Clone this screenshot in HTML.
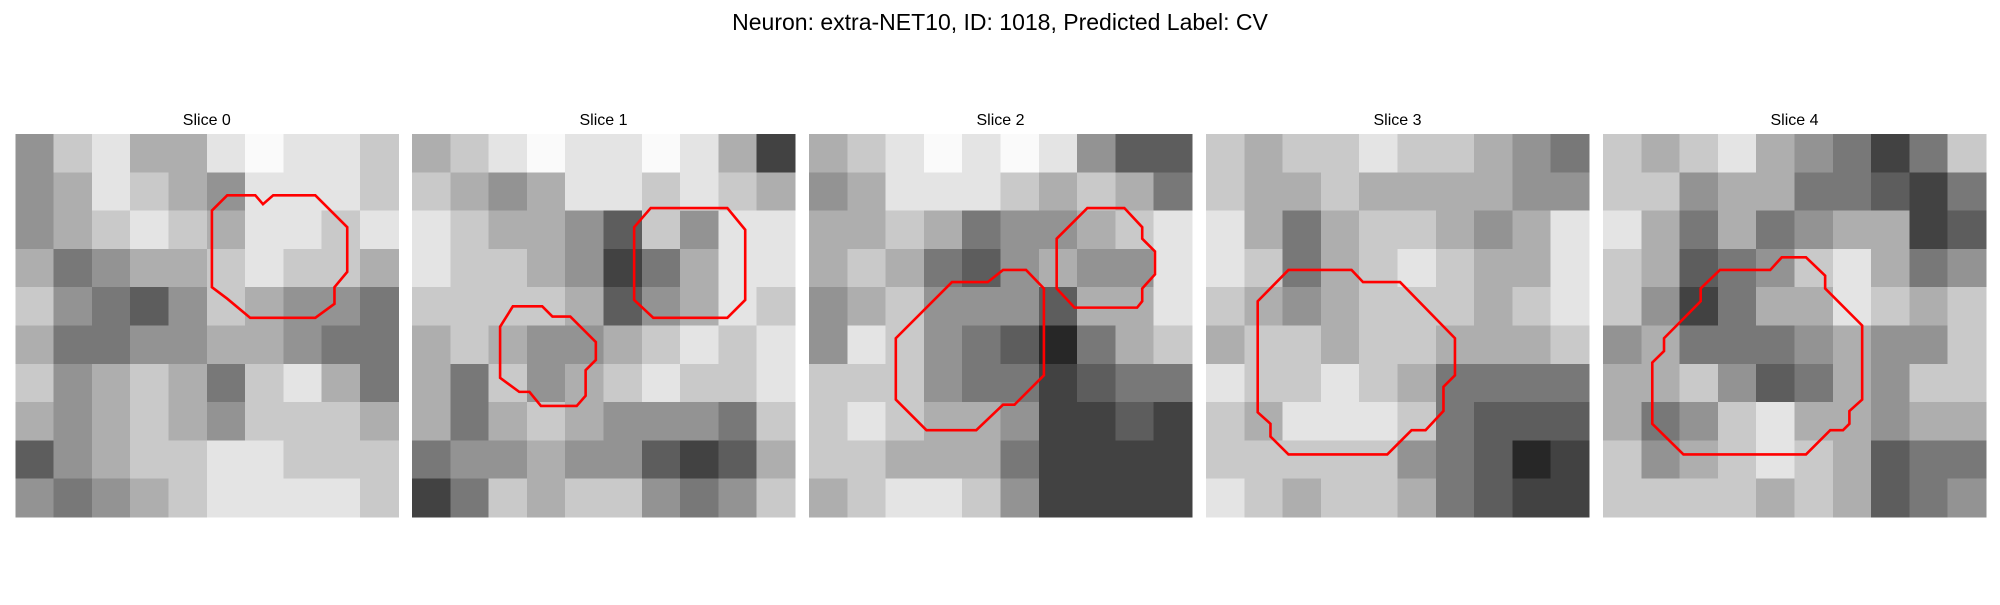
<!DOCTYPE html>
<html><head><meta charset="utf-8"><style>
body{margin:0;background:#fff;width:2000px;height:600px;overflow:hidden;font-family:"Liberation Sans","DejaVu Sans",sans-serif}
</style></head><body>
<svg id="chart" width="2000" height="600" xmlns="http://www.w3.org/2000/svg">
<text x="1000" y="30" text-anchor="middle" font-size="23" font-family="Liberation Sans, DejaVu Sans, sans-serif" fill="#000">Neuron: extra-NET10, ID: 1018, Predicted Label: CV</text>
</svg>
<script>
const sliceTitles = ["Slice 0","Slice 1","Slice 2","Slice 3","Slice 4"];
const grid0 = [[5,7,8,6,6,8,9,8,8,7],[5,6,8,7,6,5,8,8,8,7],[5,6,7,8,7,6,8,8,7,8],[6,4,5,6,6,7,8,7,7,6],[7,5,4,3,5,7,6,5,5,4],[6,4,4,5,5,6,6,5,4,4],[7,5,6,7,6,4,7,8,6,4],[6,5,6,7,6,5,7,7,7,6],[3,5,6,7,7,8,8,7,7,7],[5,4,5,6,7,8,8,8,8,7]];
const grid1 = [[6,7,8,9,8,8,9,8,6,2],[7,6,5,6,8,8,7,8,7,6],[8,7,6,6,5,3,7,5,8,8],[8,7,7,6,5,2,4,6,8,8],[7,7,7,7,6,3,5,6,8,7],[6,7,6,5,5,6,7,8,7,8],[6,4,7,5,6,7,8,7,7,8],[6,4,6,7,6,5,5,5,4,7],[4,5,5,6,5,5,3,2,3,6],[2,4,7,6,7,7,5,4,5,7]];
const grid2 = [[6,7,8,9,8,9,8,5,3,3],[5,6,8,8,8,7,6,7,6,4],[6,6,7,6,4,5,5,6,7,8],[6,7,6,4,3,5,6,5,5,8],[5,6,7,5,5,5,3,6,6,8],[5,8,7,5,4,3,1,4,6,7],[7,7,7,5,4,4,2,3,4,4],[7,8,7,6,6,5,2,2,3,2],[7,7,6,6,6,4,2,2,2,2],[6,7,8,8,7,5,2,2,2,2]];
const grid3 = [[7,6,7,7,8,7,7,6,5,4],[7,6,6,7,6,6,6,6,5,5],[8,6,4,6,7,7,6,5,6,8],[8,7,4,6,7,8,7,6,6,8],[7,6,5,6,7,7,7,6,7,8],[6,7,7,6,7,7,6,6,6,7],[8,7,7,8,7,6,4,4,4,4],[7,6,8,8,8,7,4,3,3,3],[7,7,7,7,7,5,4,3,1,2],[8,7,6,7,7,6,4,3,2,2]];
const grid4 = [[7,6,7,8,6,5,4,2,4,7],[7,7,5,6,6,4,4,3,2,4],[8,6,4,6,4,5,6,6,2,3],[7,6,3,4,5,7,8,6,4,5],[7,5,2,4,6,6,8,7,6,7],[5,6,4,4,4,5,6,5,5,7],[6,6,7,5,3,4,6,5,7,7],[6,4,5,7,8,6,6,5,6,6],[7,5,6,7,8,7,6,3,4,4],[7,7,7,7,6,7,6,3,4,5]];
const grids = [grid0,grid1,grid2,grid3,grid4];
const contours0 = [[[16.6,4.8],[18.8,4.8],[19.4,5.5],[20.2,4.8],[23.5,4.8],[26,7.3],[26,10.8],[25,12],[25,13.3],[23.5,14.4],[18.4,14.4],[16.6,12.9],[15.4,12],[15.4,6]]];
const contours1 = [[[18.7,5.8],[24.7,5.8],[26.1,7.5],[26.1,13],[24.7,14.4],[18.9,14.4],[17.4,13],[17.4,7.3]],
 [[7.9,13.5],[10.2,13.5],[11,14.3],[12.4,14.3],[13.6,15.5],[14.4,16.3],[14.4,17.7],[13.6,18.5],[13.6,20.5],[12.9,21.3],[10.1,21.3],[9.2,20.2],[8.4,20.2],[6.9,19.1],[6.9,15.1]]];
const contours2 = [[[21.8,5.8],[24.7,5.8],[26.1,7.3],[26.1,8.2],[27.1,9.2],[27.1,11],[26.1,12.1],[26.1,13.1],[25.7,13.6],[20.8,13.6],[19.4,12.1],[19.4,8.2]],
 [[15.2,10.65],[17,10.65],[18.4,12.1],[18.4,18.9],[16.1,21.2],[15.2,21.2],[13.1,23.2],[9.2,23.2],[6.8,20.8],[6.8,16],[11.2,11.6],[14,11.6]]];
const contours3 = [[[6.46,10.65],[11.4,10.65],[12.3,11.6],[15.2,11.6],[19.5,16],[19.5,18.9],[18.6,19.8],[18.6,21.7],[17.2,23.2],[16.1,23.2],[14.2,25.1],[6.46,25.1],[5.05,23.7],[5.05,22.7],[4.05,21.8],[4.05,13.1]]];
const contours4 = [[[14,9.66],[15.9,9.66],[17.4,11.1],[17.4,12.1],[20.3,15],[20.3,20.8],[19.3,21.7],[19.3,22.7],[18.8,23.2],[17.8,23.2],[15.9,25.1],[6.3,25.1],[3.86,22.7],[3.86,17.9],[4.78,17],[4.78,16],[7.65,13.1],[7.65,12.1],[9.16,10.65],[13.1,10.65]]];
const contours = [contours0,contours1,contours2,contours3,contours4];

const NS="http://www.w3.org/2000/svg";
const svg=document.getElementById('chart');
const panelX=[15.3,412,809,1206,1603], panelY=134, panelS=383;
function px(i,c){return panelX[i]+c/30*panelS;}
function py(c){return panelY+c/30*panelS;}
function gray(v){const g=Math.min(250,Math.round(12+v*27));return `rgb(${g},${g},${g})`;}
grids.forEach((grid,i)=>{
  const g=document.createElementNS(NS,'g');
  
  
  const n=grid.length, cs=panelS/n;
  grid.forEach((row,r)=>row.forEach((v,c)=>{
    const rect=document.createElementNS(NS,'rect');
    
    
    rect.setAttribute('x',panelX[i]+c*cs);rect.setAttribute('y',panelY+r*cs);
    rect.setAttribute('width',cs+0.5);rect.setAttribute('height',cs+0.5);
    rect.setAttribute('fill',gray(v));rect.setAttribute('shape-rendering','crispEdges');
    g.appendChild(rect);
  }));
  contours[i].forEach(poly=>{
    const p=document.createElementNS(NS,'polygon');
    
    
    p.setAttribute('points',poly.map(q=>px(i,q[0])+','+py(q[1])).join(' '));
    p.setAttribute('fill','none');p.setAttribute('stroke','#ff0000');p.setAttribute('stroke-width','2.6');
    g.appendChild(p);
  });
  const t=document.createElementNS(NS,'text');
  
  
  t.setAttribute('x',panelX[i]+panelS/2);t.setAttribute('y',125);
  t.setAttribute('text-anchor','middle');t.setAttribute('font-size','16');
  t.setAttribute('font-family','Liberation Sans, DejaVu Sans, sans-serif');
  t.textContent=sliceTitles[i];
  g.appendChild(t);
  svg.appendChild(g);
});
</script>
</body></html>
